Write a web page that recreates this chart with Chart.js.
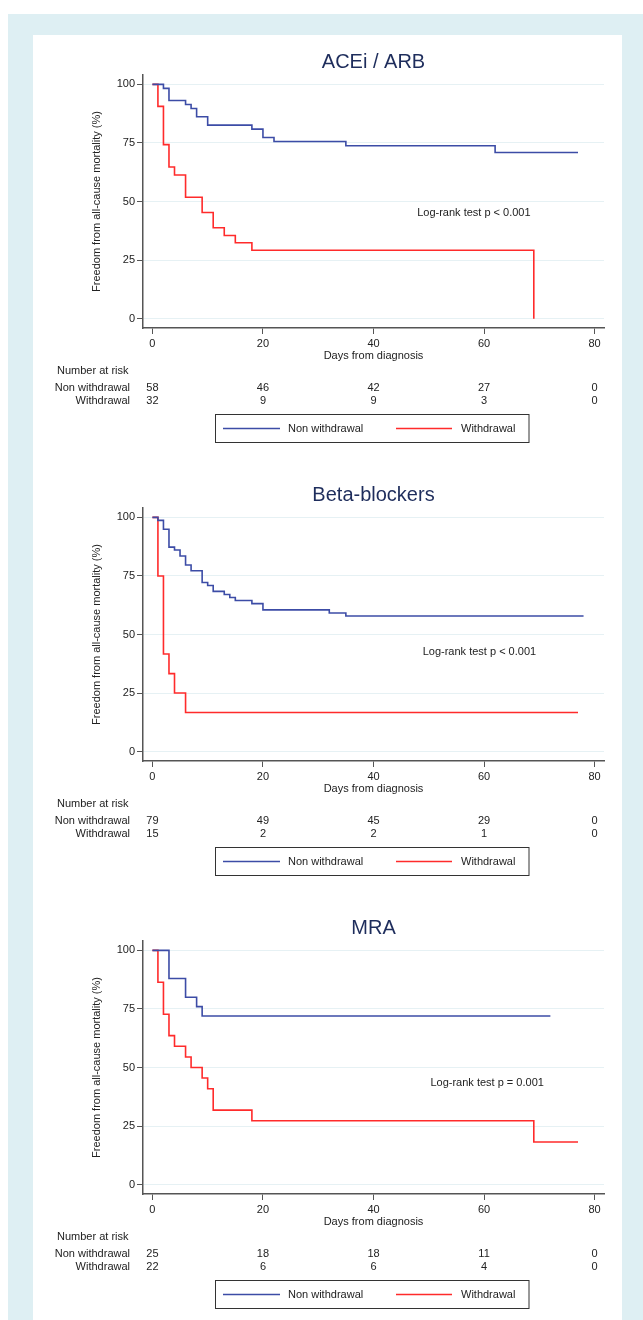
<!DOCTYPE html>
<html>
<head>
<meta charset="utf-8">
<script src="https://cdn.jsdelivr.net/npm/chart.js@4/dist/chart.umd.min.js"></script>
<style>
  body { margin: 0; background: #fff; width: 643px; height: 1320px; overflow: hidden; position: relative; }
  #band { position: absolute; left: 8px; top: 14px; right: 0; bottom: 0; background: #deeff3; }
  #panel { position: absolute; left: 33px; top: 35px; width: 589px; height: 1285px; background: #fff; }
  canvas { position: absolute; left: 33px; }
</style>
</head>
<body>
<div id="band"></div>
<div id="panel"></div>
<canvas id="g-ace" width="589" height="420" style="top:40px"></canvas>
<canvas id="g-bb" width="589" height="420" style="top:473px"></canvas>
<canvas id="g-mra" width="589" height="420" style="top:906px"></canvas>
<script>
var FONT = '"Liberation Sans", Arial, sans-serif';
var BLUE = '#3c4ca6';
var RED = '#ff2b2b';

// x ticks / y ticks
var dayTicks = [0, 20, 40, 60, 80];
var pctTicks = [0, 25, 50, 75, 100];

// ACEi / ARB
var aceNonDays = [0, 2, 3, 6, 7, 8, 10, 18, 20, 22, 35, 62, 77];
var aceNonSurv = [100, 98.3, 93.1, 91.4, 89.7, 86.2, 82.6, 80.9, 77.3, 75.6, 73.8, 70.9, 70.9];
var aceWdDays = [0, 1, 2, 3, 4, 6, 9, 11, 13, 15, 18, 69];
var aceWdSurv = [100, 90.6, 74.3, 64.7, 61.3, 51.8, 45.3, 38.8, 35.5, 32.4, 29.2, 0];
var aceRiskNon = [58, 46, 42, 27, 0];
var aceRiskWd = [32, 9, 9, 3, 0];

// Beta-blockers
var bbNonDays = [0, 1, 2, 3, 4, 5, 6, 7, 9, 10, 11, 13, 14, 15, 18, 20, 32, 35, 78];
var bbNonSurv = [100, 98.7, 94.9, 87.3, 86.1, 83.5, 79.7, 77.2, 72.2, 70.9, 68.4, 67.1, 65.8, 64.5, 63.2, 60.5, 59.2, 57.9, 57.9];
var bbWdDays = [0, 1, 2, 3, 4, 6, 77];
var bbWdSurv = [100, 75, 41.7, 33.3, 25, 16.7, 16.7];
var bbRiskNon = [79, 49, 45, 29, 0];
var bbRiskWd = [15, 2, 2, 1, 0];

// MRA
var mraNonDays = [0, 3, 6, 8, 9, 72];
var mraNonSurv = [100, 88, 80, 76, 72, 72];
var mraWdDays = [0, 1, 2, 3, 4, 6, 7, 9, 10, 11, 18, 69, 77];
var mraWdSurv = [100, 86.4, 72.7, 63.6, 59.1, 54.5, 50, 45.5, 40.9, 31.8, 27.3, 18.2, 18.2];
var mraRiskNon = [25, 18, 18, 11, 0];
var mraRiskWd = [22, 6, 6, 4, 0];

function pts(days, surv) {
  return days.map(function (d, i) { return { x: d, y: surv[i] }; });
}

// title over the plot area, log-rank note, number-at-risk table and boxed legend
var kmExtras = {
  id: 'kmExtras',
  afterDraw: function (chart, args, o) {
    var c = chart.ctx, xs = chart.scales.x, ys = chart.scales.y;
    var area = chart.chartArea, base = area.bottom;
    c.save();
    c.textBaseline = 'middle';
    c.textAlign = 'center';
    c.fillStyle = '#1e2d5c';
    c.font = '20px ' + FONT;
    c.fillText(o.title, (area.left + area.right) / 2, 22);

    c.font = '11px ' + FONT;
    c.fillStyle = '#222';
    c.textAlign = 'left';
    c.fillText(o.note, xs.getPixelForValue(o.noteAt[0]), ys.getPixelForValue(o.noteAt[1]));

    c.fillText('Number at risk', 24, base + 43);
    c.textAlign = 'right';
    c.fillText('Non withdrawal', 97, base + 59.5);
    c.fillText('Withdrawal', 97, base + 73);
    c.textAlign = 'center';
    dayTicks.forEach(function (d, i) {
      c.fillText(String(o.riskNon[i]), xs.getPixelForValue(d), base + 59.5);
      c.fillText(String(o.riskWd[i]), xs.getPixelForValue(d), base + 73);
    });

    var top = base + 86.5, mid = top + 14;
    c.strokeStyle = '#333';
    c.lineWidth = 1;
    c.strokeRect(182.5, top, 313.5, 28);
    c.lineWidth = 1.6;
    c.strokeStyle = BLUE;
    c.beginPath(); c.moveTo(190, mid); c.lineTo(247, mid); c.stroke();
    c.strokeStyle = RED;
    c.beginPath(); c.moveTo(363, mid); c.lineTo(419, mid); c.stroke();
    c.textAlign = 'left';
    c.fillText('Non withdrawal', 255, mid);
    c.fillText('Withdrawal', 428, mid);
    c.restore();
  }
};

function kmChart(id, nonData, wdData, extras) {
  var ctx = document.getElementById(id).getContext('2d');
  return new Chart(ctx, {
    type: 'line',
    data: {
      datasets: [
        { label: 'Non withdrawal', data: nonData, borderColor: BLUE, borderWidth: 1.6, stepped: true, pointRadius: 0, fill: false },
        { label: 'Withdrawal', data: wdData, borderColor: RED, borderWidth: 1.6, stepped: true, pointRadius: 0, fill: false }
      ]
    },
    options: {
      responsive: false,
      animation: false,
      layout: { padding: { left: 57, right: 18, top: 35, bottom: 97 } },
      plugins: {
        legend: { display: false },
        tooltip: { enabled: false },
        title: { display: false },
        kmExtras: extras
      },
      scales: {
        x: {
          type: 'linear', min: -1.7, max: 81.7,
          afterBuildTicks: function (s) { s.ticks = dayTicks.map(function (v) { return { value: v }; }); },
          afterFit: function (s) { s.height = 35; },
          grid: { drawOnChartArea: false, tickLength: 6, tickColor: '#555', color: '#555' },
          border: { color: '#555', width: 1.5 },
          ticks: { color: '#222', padding: 3, maxRotation: 0, font: { family: FONT, size: 11 } },
          title: { display: true, text: 'Days from diagnosis', color: '#222', padding: 0, font: { family: FONT, size: 11 } }
        },
        y: {
          min: -4, max: 104,
          afterBuildTicks: function (s) { s.ticks = pctTicks.map(function (v) { return { value: v }; }); },
          afterFit: function (s) { s.width = 53; },
          grid: { color: '#e6f1f4', tickLength: 6, tickColor: '#555' },
          border: { color: '#555', width: 1.5 },
          ticks: { color: '#222', padding: 2, font: { family: FONT, size: 11 } },
          title: { display: true, text: 'Freedom from all-cause mortality (%)', color: '#222', padding: 0, font: { family: FONT, size: 11 } }
        }
      }
    },
    plugins: [kmExtras]
  });
}

kmChart('g-ace', pts(aceNonDays, aceNonSurv), pts(aceWdDays, aceWdSurv),
  { title: 'ACEi / ARB', note: 'Log-rank test p < 0.001', noteAt: [47.9, 45], riskNon: aceRiskNon, riskWd: aceRiskWd });
kmChart('g-bb', pts(bbNonDays, bbNonSurv), pts(bbWdDays, bbWdSurv),
  { title: 'Beta-blockers', note: 'Log-rank test p < 0.001', noteAt: [48.9, 42.5], riskNon: bbRiskNon, riskWd: bbRiskWd });
kmChart('g-mra', pts(mraNonDays, mraNonSurv), pts(mraWdDays, mraWdSurv),
  { title: 'MRA', note: 'Log-rank test p = 0.001', noteAt: [50.3, 43.5], riskNon: mraRiskNon, riskWd: mraRiskWd });
</script>
</body>
</html>
